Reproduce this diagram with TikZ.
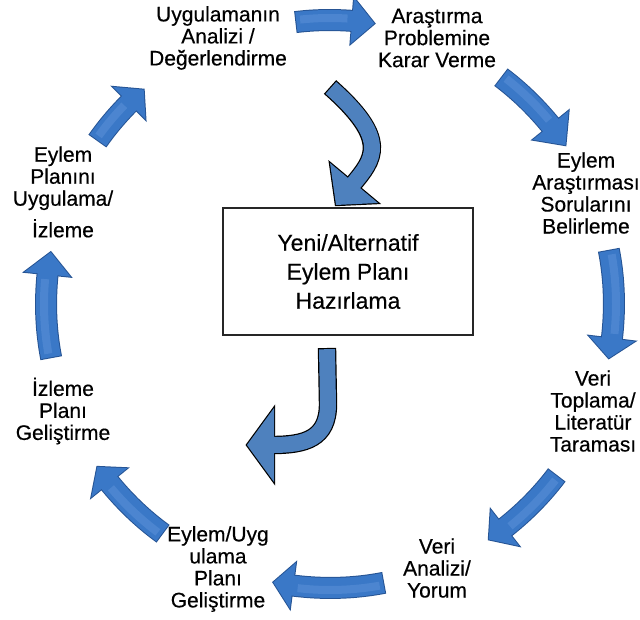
\documentclass[tikz,border=0pt]{standalone}
\usepackage{fontspec}
\setmainfont{Liberation Sans}[FakeBold=0.4]
\usetikzlibrary{calc}

\definecolor{ringblue}{RGB}{58,120,199}
\definecolor{ringdark}{RGB}{38,84,148}
\definecolor{ringlight}{RGB}{110,160,225}
\definecolor{midblue}{RGB}{78,129,190}

\newcommand{\blockarrow}[3]{%
	\draw[#1 edge] #2;
	\filldraw[#1 tip edge] #3 -- cycle;
	\draw[#1 body] #2;
	\fill[#1 tip body] #3 -- cycle;}

\begin{document}
\begin{tikzpicture}[x=1pt,y=1pt,
	lbl/.style={align=center,inner sep=0pt,font=\fontsize{21}{22}\selectfont},
	box/.style={draw=black!85,line width=1.3pt,minimum width=250pt,minimum height=127pt,align=center,font=\fontsize{23}{29}\selectfont},
	ring edge/.style={draw=ringdark,line width=22pt,shorten >=-2pt},
	ring tip edge/.style={draw=ringdark,fill=ringdark,line width=2pt,line join=miter},
	ring body/.style={draw=ringblue,line width=20pt,shorten >=-2pt,shorten <=1pt},
	ring tip body/.style={fill=ringblue},
	ring shine/.style={draw=ringlight,line width=8pt,opacity=.35},
	mid edge/.style={draw=black,line width=18.4pt,shorten >=-2pt},
	mid tip edge/.style={draw=black,fill=black,line width=2.4pt,line join=miter},
	mid body/.style={draw=midblue,line width=16pt,shorten >=-2pt,shorten <=1.2pt},
	mid tip body/.style={fill=midblue}]

	\useasboundingbox (0,0) rectangle (640,619);

	\coordinate (ring) at (330,315);

	\foreach \s/\b/\t in {97/85.5/81,53/39/34,11/-7/-11,-37/-52/-56,-79/-97.5/-101.5,-126/-141/-145,-169/-186/-190.5,-215/-225/-229}{
		\coordinate (atail) at ($(ring)+(\s:284pt)$);
		\coordinate (atip) at ($(ring)+(\t:284pt)$);
		\blockarrow{ring}{(atail) arc[start angle=\s,end angle=\b,radius=284pt]}{($(ring)+(\b:307pt)$) -- (atip) -- ($(ring)+(\b:261pt)$)}
		\draw[ring shine] ($(ring)+({\s-1}:286pt)$) arc[start angle=\s-1,end angle=\b+1,radius=286pt];
	}

	\coordinate (c1a) at (330,532);
	\coordinate (c1b) at (354,436);
	\blockarrow{mid}{(c1a) .. controls (390,479) and (374,460) .. (c1b)}{(330,456) -- (336,414) -- (378,416)}

	\coordinate (c2a) at (327,271);
	\coordinate (c2b) at (274,174);
	\blockarrow{mid}{(c2a) -- (328,215) .. controls (328,180) and (305,174) .. (c2b)}{(274,211) -- (247,174) -- (274,137)}

	\node[lbl] (analiz) at (218,581) {Uygulamanın\\Analizi /\\Değerlendirme};
	\node[lbl] (problem) at (437,581) {Araştırma\\Problemine\\Karar Verme};
	\node[lbl] (soru) at (586,426) {Eylem\\Araştırması\\Sorularını\\Belirleme};
	\node[lbl] (toplama) at (593,208) {Veri\\Toplama/\\Literatür\\Taraması};
	\node[lbl] (yorum) at (437,51) {Veri\\Analizi/\\Yorum};
	\node[lbl] (gelistir) at (218,50) {Eylem/Uyg\\ulama\\Planı\\Geliştirme};
	\node[lbl] (izplan) at (63,208) {İzleme\\Planı\\Geliştirme};
	\node[lbl] (uygula) at (63,427) {Eylem\\Planını\\Uygulama/\\[8pt]İzleme};
	\node[box] (yeni) at (348,347.5) {Yeni/Alternatif\\Eylem Planı\\Hazırlama};

\end{tikzpicture}
\end{document}
